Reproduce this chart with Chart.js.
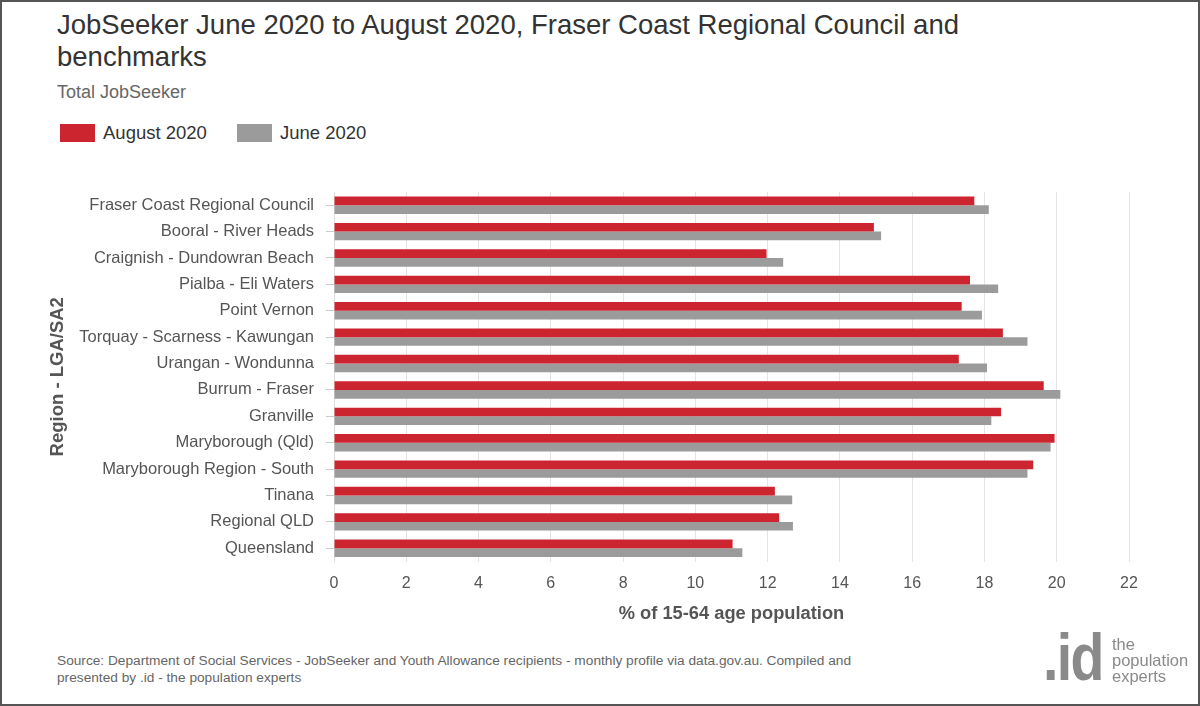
<!DOCTYPE html>
<html>
<head>
<meta charset="utf-8">
<script src="https://cdn.jsdelivr.net/npm/chart.js@4.4.0/dist/chart.umd.min.js"></script>
<style>
    html, body { margin: 0; padding: 0; }
    body {
        width: 1200px; height: 706px; position: relative; overflow: hidden;
        background: #fff; font-family: "Liberation Sans", Arial, sans-serif;
        box-sizing: border-box; border: 2px solid #555;
    }
    .title { position: absolute; left: 55px; top: 7px; font-size: 27.5px; line-height: 32px; color: #333; }
    .subtitle { position: absolute; left: 55px; top: 80px; font-size: 18px; color: #666; }
    .legend { position: absolute; left: 58px; top: 120px; font-size: 18.5px; color: #333; display: flex; }
    .legend span { display: inline-flex; align-items: center; margin-right: 30px; }
    .legend i { display: inline-block; width: 35px; height: 18px; margin-right: 8px; }
    .source { position: absolute; left: 55px; top: 650px; font-size: 13.7px; line-height: 17px; color: #666; }
    .logo-id { position: absolute; left: 1041px; top: 622px; color: #8a8a8a; font-size: 66px; line-height: 66px;
        letter-spacing: -2px; font-weight: bold; transform: scaleX(0.84); transform-origin: left top; }
    .logo-txt { position: absolute; left: 1110px; top: 634px; color: #8a8a8a; font-size: 16.5px; line-height: 16px; }
    #wrap { position: absolute; left: -2px; top: 168px; width: 1200px; height: 472px; }
</style>
</head>
<body>
<div class="title">JobSeeker June 2020 to August 2020, Fraser Coast Regional Council and<br>benchmarks</div>
<div class="subtitle">Total JobSeeker</div>
<div class="legend">
    <span><i style="background:#cd2530"></i>August 2020</span>
    <span><i style="background:#9b9b9b"></i>June 2020</span>
</div>
<div id="wrap"><canvas id="jobChart"></canvas></div>
<div class="source">Source: Department of Social Services - JobSeeker and Youth Allowance recipients - monthly profile via data.gov.au. Compiled and<br>presented by .id - the population experts</div>
<div class="logo-id">.id</div>
<div class="logo-txt">the<br>population<br>experts</div>

<script>
// regions, top to bottom
const regions = [
    'Fraser Coast Regional Council',
    'Booral - River Heads',
    'Craignish - Dundowran Beach',
    'Pialba - Eli Waters',
    'Point Vernon',
    'Torquay - Scarness - Kawungan',
    'Urangan - Wondunna',
    'Burrum - Fraser',
    'Granville',
    'Maryborough (Qld)',
    'Maryborough Region - South',
    'Tinana',
    'Regional QLD',
    'Queensland'
];

// % of 15-64 age population
const august2020 = [17.72, 14.94, 11.97, 17.6, 17.37, 18.51, 17.29, 19.64, 18.46, 19.94, 19.35, 12.2, 12.32, 11.03];
const june2020 = [18.12, 15.14, 12.43, 18.38, 17.93, 19.19, 18.07, 20.1, 18.19, 19.83, 19.19, 12.68, 12.7, 11.3];

const xTicks = [0, 2, 4, 6, 8, 10, 12, 14, 16, 18, 20, 22];

const ctx = document.getElementById('jobChart').getContext('2d');

new Chart(ctx, {
    type: 'bar',
    data: {
        labels: regions,
        datasets: [{
            label: 'August 2020',
            data: august2020,
            backgroundColor: '#cd2530',
            categoryPercentage: 0.66,
            barPercentage: 1.0
        }, {
            label: 'June 2020',
            data: june2020,
            backgroundColor: '#9b9b9b',
            categoryPercentage: 0.66,
            barPercentage: 1.0
        }]
    },
    options: {
        indexAxis: 'y',
        responsive: true,
        maintainAspectRatio: false,
        animation: false,
        layout: {
            padding: { left: 47, right: 71, top: 22, bottom: 19 }
        },
        scales: {
            x: {
                min: 0,
                max: 22,
                afterBuildTicks: (scale) => {
                    scale.ticks = xTicks.map(v => ({ value: v }));
                },
                grid: { color: '#e4e4e4', drawTicks: false },
                border: { display: false },
                ticks: {
                    color: '#555',
                    padding: 12,
                    font: { family: 'Liberation Sans', size: 16 }
                },
                title: {
                    display: true,
                    text: '% of 15-64 age population',
                    color: '#555',
                    padding: 0,
                    font: { family: 'Liberation Sans', size: 18.3, weight: 'bold', lineHeight: 1 }
                }
            },
            y: {
                afterFit: (scale) => { scale.width = 287; },
                grid: {
                    offset: false,
                    drawOnChartArea: false,
                    tickLength: 8,
                    color: '#ccc'
                },
                border: { color: '#ddd' },
                ticks: {
                    color: '#555',
                    padding: 12,
                    font: { family: 'Liberation Sans', size: 16.5 }
                },
                title: {
                    display: true,
                    text: 'Region - LGA/SA2',
                    color: '#555',
                    padding: 0,
                    font: { family: 'Liberation Sans', size: 18.5, weight: 'bold' }
                }
            }
        },
        plugins: {
            legend: { display: false },
            tooltip: { enabled: false }
        }
    }
});
</script>
</body>
</html>
